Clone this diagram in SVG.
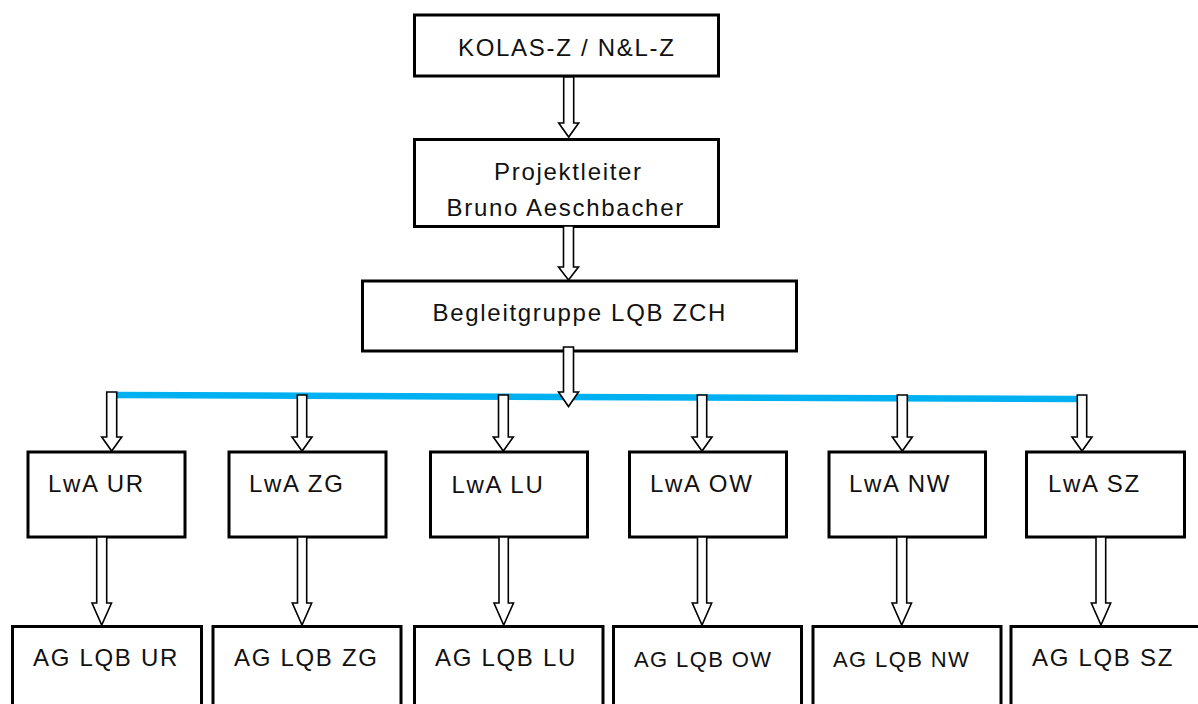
<svg xmlns="http://www.w3.org/2000/svg" width="1198" height="704" viewBox="0 0 1198 704">
<style>
.box{fill:#fff;stroke:#000;stroke-width:3}
.t{font-family:"Liberation Sans",Arial,sans-serif;font-size:24px;fill:#111;letter-spacing:1.7px}
.ts{font-size:22px;letter-spacing:1.4px}
.arr{fill:#fff;stroke:#000;stroke-width:1.6;stroke-linejoin:miter}
.bus{stroke:#00B0F0;stroke-width:6.5;fill:none}
</style>
<rect width="1198" height="704" fill="#fff"/>
<g id="n-kolas"><rect class="box" x="414.5" y="15" width="304" height="61"/><text class="t" x="458" y="56">KOLAS-Z / N&amp;L-Z</text></g>
<g id="n-projektleiter"><rect class="box" x="414.5" y="139.5" width="304" height="87"/><text class="t" x="494" y="180">Projektleiter</text><text class="t" x="446.5" y="216">Bruno Aeschbacher</text></g>
<g id="n-begleitgruppe"><rect class="box" x="362.5" y="281" width="434" height="70"/><text class="t" x="432.5" y="321">Begleitgruppe LQB ZCH</text></g>
<g id="n-lwa-ur"><rect class="box" x="28" y="452" width="157" height="85"/><text class="t" x="48" y="492">LwA UR</text></g>
<g id="n-lwa-zg"><rect class="box" x="229" y="452" width="157" height="85"/><text class="t" x="249" y="492">LwA ZG</text></g>
<g id="n-lwa-lu"><rect class="box" x="430.5" y="452" width="157" height="85"/><text class="t" x="451.5" y="492.5">LwA LU</text></g>
<g id="n-lwa-ow"><rect class="box" x="629.5" y="452" width="157" height="85"/><text class="t" x="650" y="492">LwA OW</text></g>
<g id="n-lwa-nw"><rect class="box" x="829" y="452" width="156.5" height="85"/><text class="t" x="849" y="492">LwA NW</text></g>
<g id="n-lwa-sz"><rect class="box" x="1026.5" y="452" width="158" height="85"/><text class="t" x="1048" y="492">LwA SZ</text></g>
<g id="n-ag-ur"><rect class="box" x="12.5" y="626.5" width="189" height="100"/><text class="t" x="33" y="666">AG LQB UR</text></g>
<g id="n-ag-zg"><rect class="box" x="213" y="626.5" width="188" height="100"/><text class="t" x="234" y="666">AG LQB ZG</text></g>
<g id="n-ag-lu"><rect class="box" x="414.5" y="626.5" width="188.5" height="100"/><text class="t" x="435" y="666">AG LQB LU</text></g>
<g id="n-ag-ow"><rect class="box" x="613.5" y="626.5" width="188" height="100"/><text class="t ts" x="634" y="666.5">AG LQB OW</text></g>
<g id="n-ag-nw"><rect class="box" x="813" y="626.5" width="188" height="100"/><text class="t ts" x="833" y="666.5">AG LQB NW</text></g>
<g id="n-ag-sz"><rect class="box" x="1011" y="626.5" width="200" height="100"/><text class="t" x="1032" y="666">AG LQB SZ</text></g>
<g id="connectors">
<polyline class="bus" points="117,395 568,397 1077,399"/>
<polygon class="arr" points="563.7,77 573.7,77 573.7,123 578.7,123 568.7,137 558.7,123 563.7,123"/>
<polygon class="arr" points="563.5,226 573.5,226 573.5,267 578.5,267 568.5,280 558.5,267 563.5,267"/>
<polygon class="arr" points="563.5,347 573.5,347 573.5,392 578.5,392 568.5,406.5 558.5,392 563.5,392"/>
<polygon class="arr" points="106.7,392 116.7,392 116.7,437 121.7,437 111.7,451 101.7,437 106.7,437"/>
<polygon class="arr" points="297.3,395 306.7,395 306.7,437 312,437 302,451 292,437 297.3,437"/>
<polygon class="arr" points="498.5,395 508.3,395 508.3,437 513.3,437 503.3,451 493.3,437 498.5,437"/>
<polygon class="arr" points="697.3,395 706.7,395 706.7,437 712,437 702,451 692,437 697.3,437"/>
<polygon class="arr" points="897.3,395 907.3,395 907.3,437 912.3,437 902.3,451 892.3,437 897.3,437"/>
<polygon class="arr" points="1077.3,395 1086.7,395 1086.7,437 1092,437 1082,451 1072,437 1077.3,437"/>
<polygon class="arr" points="96.7,537 106.7,537 106.7,603 111.5,603 101.7,625 92,603 96.7,603"/>
<polygon class="arr" points="297.5,537 306.7,537 306.7,603 311.7,603 302,625 292.3,603 297.5,603"/>
<polygon class="arr" points="499,537 508.3,537 508.3,603 513.5,603 503.7,625 494,603 499,603"/>
<polygon class="arr" points="697.5,537 706.7,537 706.7,603 711.7,603 702,625 692.3,603 697.5,603"/>
<polygon class="arr" points="896.7,537 906.7,537 906.7,603 911.5,603 901.7,625 892,603 896.7,603"/>
<polygon class="arr" points="1096,537 1105.7,537 1105.7,603 1110.7,603 1101,625 1091.3,603 1096,603"/>
</g>
</svg>
